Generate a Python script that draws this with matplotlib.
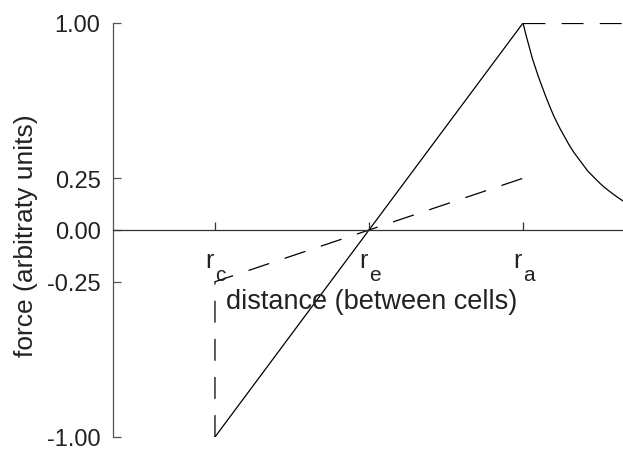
import matplotlib
matplotlib.use("Agg")
import matplotlib.pyplot as plt

plt.rcParams['font.family'] = ['Liberation Sans', 'DejaVu Sans']

# data
r_pos = [1.0, 2.0, 3.0]
r_subs = ['c', 'e', 'a']
y_ticks = [-1.0, -0.25, 0.0, 0.25, 1.0]
y_ticklabels = ['-1.00', '-0.25', '0.00', '0.25', '1.00']

linear_x = [1.0, 3.0]
linear_y = [-1.0, 1.0]
decay_x = [3.0, 3.02, 3.04, 3.06, 3.08, 3.10, 3.13, 3.15, 3.18, 3.20, 3.24, 3.27,
           3.30, 3.33, 3.36, 3.39, 3.42, 3.46, 3.50, 3.53, 3.57, 3.61, 3.65]
decay_y = [1.0, 0.94, 0.885, 0.83, 0.785, 0.74, 0.68, 0.64, 0.585, 0.55, 0.49, 0.45,
           0.41, 0.375, 0.345, 0.315, 0.285, 0.255, 0.225, 0.205, 0.182, 0.16, 0.14]
dashed_x = [1.0, 1.0, 3.0]
dashed_y = [-1.0, -0.25, 0.25]
dashed_top_x = [3.0, 3.65]
dashed_top_y = [1.0, 1.0]

fig = plt.figure(figsize=(6.23, 4.52), dpi=100)
ax = fig.add_axes([113/623, 1-438/452, 1-113/623, (438-24)/452])

ax.plot(linear_x, linear_y, color='black', lw=0.9, solid_capstyle='butt')
ax.plot(decay_x, decay_y, color='black', lw=0.9, solid_joinstyle='round')
l1, = ax.plot(dashed_x, dashed_y, color='black', lw=0.9)
l1.set_dashes([17.5, 13])
l2, = ax.plot(dashed_top_x, dashed_top_y, color='black', lw=0.9)
l2.set_dashes([17.5, 13])

ax.set_xlim(0.338, 3.649)
ax.set_ylim(-1.0, 1.0)

for s in ['top', 'right']:
    ax.spines[s].set_visible(False)
ax.spines['bottom'].set_position(('data', 0))
ax.spines['bottom'].set_color('#333333')
ax.spines['left'].set_color('#555555')
ax.spines['bottom'].set_linewidth(0.9)
ax.spines['left'].set_linewidth(0.9)

ax.set_xticks(r_pos)
ax.set_xticklabels([''] * len(r_pos))
ax.tick_params(axis='x', direction='in', length=6, width=0.9, color='#333333')
for xp, sub in zip(r_pos, r_subs):
    ax.annotate('r', xy=(xp, 0), xycoords='data', xytext=(-1, -37),
                textcoords='offset pixels', ha='right', va='baseline',
                fontsize=18, color='#222222')
    ax.annotate(sub, xy=(xp, 0), xycoords='data', xytext=(0, -50),
                textcoords='offset pixels', ha='left', va='baseline',
                fontsize=15, color='#222222')

ax.set_yticks(y_ticks)
ax.set_yticklabels(y_ticklabels, fontsize=17)
ax.tick_params(axis='y', direction='in', length=6, width=0.9, color='#555555', pad=9)
for lab in ax.get_yticklabels():
    lab.set_color('#222222')

ax.text(2.02, -0.345, 'distance (between cells)', fontsize=19.5, ha='center', va='center',
        color='#222222')
fig.text(26/623, 1-236/452, 'force (arbitraty units)', fontsize=19, rotation=90,
         ha='center', va='center', color='#222222')

fig.savefig('out.png', dpi=100)
